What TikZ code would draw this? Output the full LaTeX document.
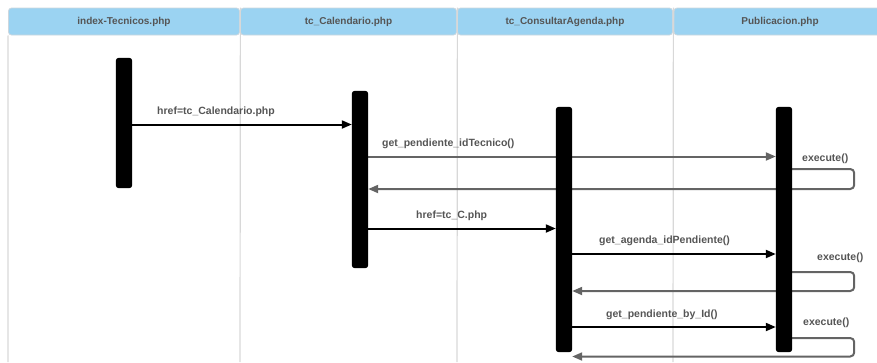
\documentclass[tikz,border=0pt]{standalone}
\usepackage{fontspec}
\setmainfont{Liberation Sans}
\usetikzlibrary{arrows.meta,calc}

\definecolor{headfill}{RGB}{155,211,242}
\definecolor{headline}{RGB}{205,215,222}
\definecolor{divider}{RGB}{216,216,216}
\definecolor{labeltext}{RGB}{85,85,85}
\definecolor{retline}{RGB}{100,100,100}

\tikzset{
  header/.style={fill=headfill, draw=headline, line width=0.8pt, rounded corners=3pt,
    minimum height=27pt, inner sep=0pt, text=labeltext,
    font=\fontsize{10}{12}\selectfont\bfseries},
  divline/.style={draw=divider, line width=1.2pt},
  actbar/.style={rounded corners=3pt, minimum width=16pt, inner sep=0pt},
  callmsg/.style={draw=black, line width=2pt, -{Triangle[length=10pt,width=8pt]}},
  graymsg/.style={draw=retline, line width=2pt, -{Triangle[length=10pt,width=8pt]}},
  retmsg/.style={draw=retline, line width=2pt, rounded corners=4pt,
    -{Triangle[length=10pt,width=8pt]}},
  msglabel/.style={anchor=west, inner sep=0pt, text=labeltext,
    font=\fontsize{10.5}{12}\selectfont\bfseries}
}

\begin{document}
\begin{tikzpicture}[x=1pt,y=-1pt]
  \useasboundingbox (0,0) rectangle (877,362);

  % column headers
  \node[header, minimum width=231pt] (h1) at (124,21.5) {index-Tecnicos.php};
  \node[header, minimum width=216pt] (h2) at (348.5,21.5) {tc\_Calendario.php};
  \node[header, minimum width=215pt] (h3) at (565,21.5) {tc\_ConsultarAgenda.php};
  \node[header, minimum width=212pt] (h4) at (780,21.5) {Publicacion.php};

  % column separators
  \coordinate (c0) at (8,362);
  \coordinate (c1) at (240,362);
  \coordinate (c2) at (457,362);
  \coordinate (c3) at (673,362);
  \draw[divline] (h1.south west) -- (c0);
  \draw[divline] (h1.north east) ++(0.5,0) -- (c1);
  \draw[divline] (h2.north east) ++(0.5,0) -- (c2);
  \draw[divline] (h3.north east) ++(0.5,0) -- (c3);

  % activation bars (placed as nodes, painted after the messages)
  \path
    node[actbar, minimum height=130pt] (b1) at (124,123) {}
    node[actbar, minimum height=177pt] (b2) at (360,179.5) {}
    node[actbar, minimum height=245pt] (b3) at (564,229.5) {}
    node[actbar, minimum height=245pt] (b4) at (784,229.5) {};

  % messages
  \draw[callmsg] (b1.east |- 0,124.5) -- (b2.west |- 0,124.5);
  \node[msglabel] (l1) at (157,112) {href=tc\_Calendario.php};

  \draw[graymsg] (b2.east |- 0,156.5) -- (b4.west |- 0,156.5);
  \node[msglabel] (l2) at (382,144) {get\_pendiente\_idTecnico()};

  \draw[retmsg] (b4.east |- 0,169) -- ++(62,0) -- ++(0,20) -- (b2.east |- 0,189);
  \node[msglabel] (l3) at (802,159) {execute()};

  \draw[callmsg] (b2.east |- 0,228.5) -- (b3.west |- 0,228.5);
  \node[msglabel] (l4) at (416,216) {href=tc\_C.php};

  \draw[callmsg] (b3.east |- 0,254) -- (b4.west |- 0,254);
  \node[msglabel] (l5) at (599,241) {get\_agenda\_idPendiente()};

  \draw[retmsg] (b4.east |- 0,272) -- ++(62,0) -- ++(0,19) -- (b3.east |- 0,291);
  \node[msglabel] (l6) at (817,258) {execute()};

  \draw[callmsg] (b3.east |- 0,327) -- (b4.west |- 0,327);
  \node[msglabel] (l7) at (606,315) {get\_pendiente\_by\_Id()};

  \draw[retmsg] (b4.east |- 0,338) -- ++(62,0) -- ++(0,18.5) -- (b3.east |- 0,356.5);
  \node[msglabel] (l8) at (803,323) {execute()};

  % bars on top of the message lines
  \foreach \b in {b1,b2,b3,b4}
    \fill[black, rounded corners=3pt] (\b.south west) rectangle (\b.north east);
\end{tikzpicture}
\end{document}
